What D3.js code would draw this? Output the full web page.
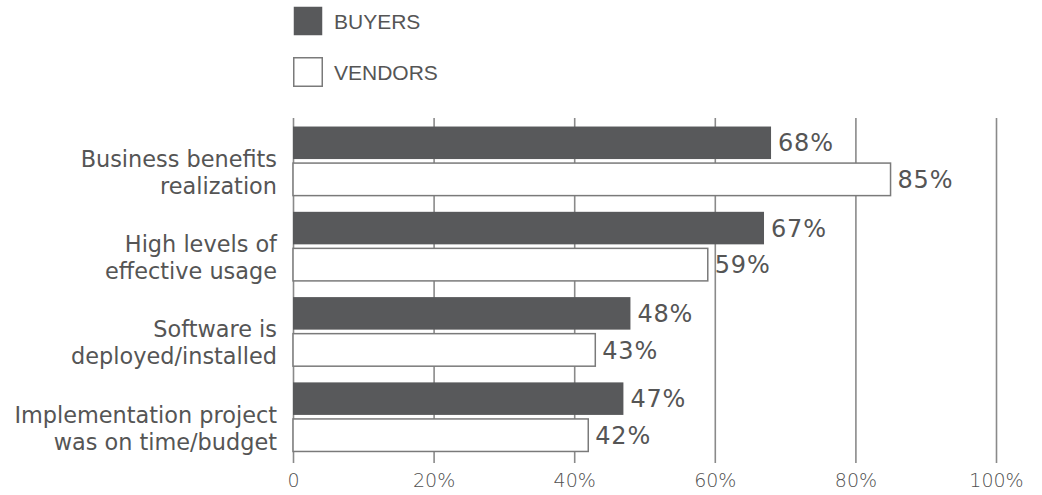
<!DOCTYPE html>
<html>
<head>
<meta charset="utf-8">
<script src="https://cdn.jsdelivr.net/npm/d3@7"></script>
<style>
  html, body { margin: 0; padding: 0; background: #ffffff; }
  svg { display: block; }
</style>
</head>
<body>
<svg id="chart" width="1042" height="495"></svg>
<script>
// Success criteria reported by buyers and vendors
const categories = [
  ["Business benefits", "realization"],
  ["High levels of", "effective usage"],
  ["Software is", "deployed/installed"],
  ["Implementation project", "was on time/budget"]
];
const seriesNames = ["BUYERS", "VENDORS"];
const buyers = [68, 67, 48, 47];
const vendors = [85, 59, 43, 42];
const tickValues = [0, 20, 40, 60, 80, 100];
const tickLabels = ["0", "20%", "40%", "60%", "80%", "100%"];

const svg = d3.select("#chart");
const darkFill = "#58595b";
const lineColor = "#8a8a8a";
const textColor = "#555555";
const bodyFont = "'DejaVu Sans', sans-serif";

const catKeys = categories.map(c => c.join(" "));
const rows = catKeys.map((k, i) => ({ key: k, lines: categories[i], values: [buyers[i], vendors[i]] }));

const x = d3.scaleLinear().domain([0, 100]).range([293, 996]);
const y = d3.scaleBand().domain(catKeys).range([118, 460]).paddingInner(0.19).paddingOuter(0.1);
const ySub = d3.scaleBand().domain(seriesNames).range([0, y.bandwidth()]).paddingInner(0.11);

// Vertical gridlines with percentage labels under the plot
const gridTop = 118, gridBottom = 463;
const xAxis = d3.axisBottom(x)
  .tickValues(tickValues)
  .tickFormat((d, i) => tickLabels[i])
  .tickSize(-(gridBottom - gridTop))
  .tickPadding(11);
const gAxis = svg.append("g")
  .attr("transform", `translate(0,${gridBottom})`)
  .call(xAxis);
gAxis.select(".domain").remove();
gAxis.selectAll(".tick line").attr("stroke", lineColor).attr("stroke-width", 1.6);
gAxis.selectAll(".tick text")
  .attr("fill", "#505050")
  .attr("font-family", bodyFont)
  .attr("font-weight", 200)
  .attr("font-size", 19);

// Bars
const groups = svg.selectAll("g.group").data(rows).join("g")
  .attr("class", "group")
  .attr("transform", d => `translate(0,${y(d.key)})`);

groups.selectAll("rect").data(d => d.values.map((v, i) => ({ name: seriesNames[i], value: v })))
  .join("rect")
  .attr("x", x(0))
  .attr("y", d => ySub(d.name))
  .attr("width", d => x(d.value) - x(0))
  .attr("height", ySub.bandwidth())
  .attr("fill", d => d.name === "BUYERS" ? darkFill : "#ffffff")
  .attr("stroke", d => d.name === "BUYERS" ? "none" : "#7a7a7a")
  .attr("stroke-width", 1.5);

// Value labels at bar ends
groups.selectAll("text.val").data(d => d.values.map((v, i) => ({ name: seriesNames[i], value: v })))
  .join("text")
  .attr("class", "val")
  .attr("x", d => x(d.value) + 7)
  .attr("y", d => ySub(d.name) + ySub.bandwidth() / 2)
  .attr("dy", "0.36em")
  .attr("fill", textColor)
  .attr("font-family", bodyFont)
  .attr("font-size", 24)
  .attr("letter-spacing", 0.8)
  .text(d => d.value + "%");

// Category labels, two lines each
groups.append("text")
  .attr("text-anchor", "end")
  .attr("fill", textColor)
  .attr("font-family", bodyFont)
  .attr("font-size", 22.4)
  .selectAll("tspan").data(d => d.lines).join("tspan")
  .attr("x", 277)
  .attr("y", (d, i) => y.bandwidth() / 2 - 2 + i * 27)
  .attr("dy", "0.35em")
  .text(d => d);

// Legend
const legend = svg.append("g");
const legendRows = legend.selectAll("g").data(seriesNames).join("g")
  .attr("transform", (d, i) => `translate(293,${6 + i * 51})`);
legendRows.append("rect")
  .attr("x", 0.75).attr("y", 0.75)
  .attr("width", 28.5).attr("height", 28.5)
  .attr("fill", (d, i) => i === 0 ? darkFill : "#ffffff")
  .attr("stroke", (d, i) => i === 0 ? "none" : "#7a7a7a")
  .attr("stroke-width", 1.5);
legendRows.append("text")
  .attr("x", 41)
  .attr("y", 15)
  .attr("dy", "0.36em")
  .attr("fill", textColor)
  .attr("font-family", "'Liberation Sans', Arial, sans-serif")
  .attr("font-size", 21)
  .text(d => d);
</script>
</body>
</html>
